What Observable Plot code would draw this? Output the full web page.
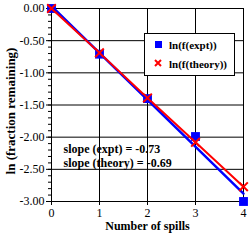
<!DOCTYPE html>
<html>
<head>
<meta charset="utf-8">
<script src="https://cdn.jsdelivr.net/npm/d3@7"></script>
<script src="https://cdn.jsdelivr.net/npm/@observablehq/plot@0.6"></script>
<style>
  html, body { margin: 0; padding: 0; background: #fff; }
  #wrap { position: relative; width: 252px; height: 240px; }
  #wrap svg, #wrap svg text { font-family: "Liberation Serif", "Times New Roman", Times, "DejaVu Serif", serif !important; }
  #legend {
    position: absolute; left: 144px; top: 33px; width: 89px; height: 41px;
    border: 1px solid #000; background: #fff;
    font-family: "Liberation Serif", "Times New Roman", Times, "DejaVu Serif", serif; font-weight: bold; font-size: 11px;
  }
  #legend .row { position: absolute; left: 0; height: 14px; line-height: 14px; }
  #legend .lab { position: absolute; left: 24px; white-space: nowrap; }
  #legend svg { position: absolute; left: 8px; top: 0; }
</style>
</head>
<body>
<div id="wrap"></div>
<script>
const spills = [0, 1, 2, 3, 4];
const exptVals = [0, -0.71, -1.40, -1.99, -3.00];
const theoryVals = [0, -0.69, -1.39, -2.08, -2.77];
const yTicks = [0, -0.5, -1, -1.5, -2, -2.5, -3];
const xTicks = [0, 1, 2, 3, 4];
const slopeLines = ["slope (expt) = -0.73", "slope (theory) = -0.69"];
const seriesNames = ["ln(f(expt))", "ln(f(theory))"];

const expt = spills.map((x, i) => ({x, y: exptVals[i]}));
const theory = spills.map((x, i) => ({x, y: theoryVals[i]}));
const minorTicks = d3.range(-30, 1).map(d => d / 10);

const chart = Plot.plot({
  width: 252, height: 240,
  marginLeft: 51, marginRight: 9, marginTop: 8, marginBottom: 39,
  x: {domain: [0, 4]},
  y: {domain: [-3, 0]},
  style: {fontSize: "12px", color: "#000", background: "#fff", overflow: "visible"},
  marks: [
    Plot.gridX(xTicks, {stroke: "#000", strokeOpacity: 1}),
    Plot.gridY(yTicks, {stroke: "#000", strokeOpacity: 1}),
    Plot.axisY(minorTicks, {tickSize: 3, text: null, label: null, stroke: "#000"}),
    Plot.axisY(yTicks, {tickSize: 5, tickPadding: 2, tickFormat: d => d.toFixed(2), label: null, fill: "#000"}),
    Plot.axisX(xTicks, {tickSize: 4, tickPadding: 3, tickFormat: d => String(d), label: null, fill: "#000"}),
    Plot.ruleX([0], {stroke: "#000"}),
    Plot.ruleY([-3], {stroke: "#000"}),
    Plot.linearRegressionY(expt, {x: "x", y: "y", stroke: "blue", strokeWidth: 2.5, ci: 0}),
    Plot.line(theory, {x: "x", y: "y", stroke: "red", strokeWidth: 2}),
    Plot.dot(expt, {x: "x", y: "y", symbol: "square", fill: "blue", r: 5}),
    Plot.dot(theory, {x: "x", y: "y", symbol: "times", stroke: "red", strokeWidth: 2, r: 4}),
    Plot.text([slopeLines.join("\n")], {frameAnchor: "top-left", dx: 12, dy: 135, textAnchor: "start", lineAnchor: "top", lineHeight: 1.15, fontWeight: "bold", fontSize: 12, fill: "#000"}),
    Plot.text(["ln (fraction remaining)"], {frameAnchor: "left", textAnchor: "middle", lineAnchor: "middle", dx: -41, dy: 6, rotate: -90, fontWeight: "bold", fontSize: 13, fill: "#000"}),
    Plot.text(["Number of spills"], {frameAnchor: "bottom", textAnchor: "middle", dy: 28, fontWeight: "bold", fontSize: 12, fill: "#000"})
  ]
});

const wrap = document.getElementById("wrap");
wrap.appendChild(chart);

const legend = document.createElement("div");
legend.id = "legend";
const sym = [
  '<svg width="10" height="14"><rect x="2" y="3" width="7" height="7" fill="blue"/></svg>',
  '<svg width="10" height="14"><path d="M2,3L8,9M8,3L2,9" stroke="red" stroke-width="2"/></svg>'
];
seriesNames.forEach((name, i) => {
  const row = document.createElement("div");
  row.className = "row";
  row.style.top = (i === 0 ? 4 : 23) + "px";
  row.style.width = "89px";
  row.innerHTML = sym[i] + '<span class="lab">' + name + '</span>';
  legend.appendChild(row);
});
wrap.appendChild(legend);
</script>
</body>
</html>
